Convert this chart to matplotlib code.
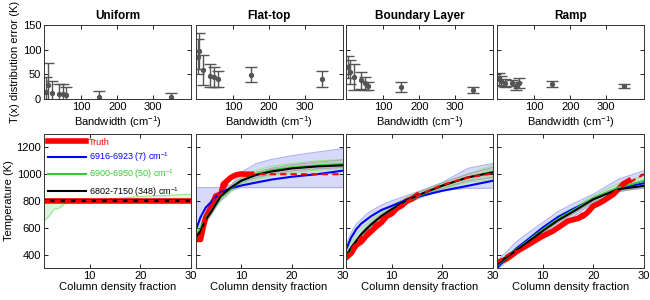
import matplotlib
matplotlib.use('Agg')
import matplotlib.pyplot as plt

plt.rcParams['font.family'] = ['Liberation Sans', 'DejaVu Sans']
plt.rcParams['mathtext.default'] = 'regular'

titles = ['Uniform', 'Flat-top', 'Boundary Layer', 'Ramp']

# top row: retrieval error vs bandwidth
bandwidth = [2, 7, 17, 37, 48, 58, 150, 348]
err_mean = [
    [15, 28, 13, 11, 11, 9, 5, 5],
    [86, 97, 59, 47, 44, 41, 49, 41],
    [65, 55, 45, 38, 32, 27, 25, 18],
    [40, 36, 33, 32, 27, 32, 30, 26],
]
err_std = [
    [30, 44, 24, 20, 20, 16, 11, 7],
    [36, 36, 30, 23, 20, 16, 15, 16],
    [22, 25, 26, 17, 13, 8, 10, 6],
    [12, 10, 8, 6, 8, 10, 6, 4],
]

# bottom row: temperature profiles
xs = [1, 2, 3, 4, 5, 6, 8, 10, 13, 16, 20, 25, 30]

blue = [
    [806, 806, 806, 806, 806, 806, 806, 806, 806, 806, 806, 806, 806],
    [576, 680, 750, 790, 830, 865, 895, 915, 938, 960, 981, 1000, 1026],
    [438, 526, 588, 631, 660, 688, 733, 763, 810, 840, 876, 913, 951],
    [301, 340, 380, 415, 451, 480, 540, 601, 680, 740, 813, 896, 933],
]
blue_lo = [
    [792, 792, 792, 792, 792, 792, 792, 792, 792, 792, 792, 792, 792],
    [530, 560, 640, 700, 760, 810, 880, 900, 900, 900, 900, 900, 900],
    [388, 450, 500, 540, 570, 600, 660, 720, 790, 830, 880, 895, 896],
    [290, 320, 355, 385, 413, 440, 490, 538, 615, 680, 788, 876, 896],
]
blue_hi = [
    [818, 818, 818, 818, 818, 818, 818, 818, 818, 818, 818, 818, 818],
    [900, 900, 900, 900, 900, 900, 915, 1013, 1080, 1110, 1138, 1165, 1190],
    [476, 560, 626, 660, 700, 726, 770, 801, 840, 880, 938, 1043, 1081],
    [351, 390, 425, 465, 501, 530, 585, 638, 720, 780, 851, 963, 1026],
]
green = [
    [800, 800, 800, 800, 800, 800, 800, 800, 800, 800, 800, 800, 800],
    [545, 590, 670, 720, 780, 830, 895, 950, 1000, 1030, 1050, 1065, 1076],
    [380, 445, 500, 548, 588, 625, 685, 735, 800, 850, 912, 975, 1020],
    [320, 350, 382, 412, 442, 470, 528, 585, 665, 730, 818, 900, 951],
]
green_lo = [
    [650, 688, 738, 746, 776, 796, 800, 800, 800, 800, 800, 800, 800],
    [520, 560, 640, 690, 750, 800, 870, 920, 960, 990, 1010, 1030, 1040],
    [370, 430, 480, 525, 560, 595, 650, 700, 780, 830, 885, 940, 960],
    [305, 335, 368, 398, 428, 455, 512, 568, 645, 712, 800, 880, 920],
]
green_hi = [
    [800, 800, 800, 800, 801, 802, 804, 808, 813, 822, 833, 842, 851],
    [580, 620, 700, 750, 810, 860, 920, 980, 1030, 1060, 1080, 1100, 1110],
    [420, 490, 550, 590, 625, 660, 715, 765, 830, 875, 935, 1000, 1066],
    [338, 368, 398, 428, 460, 488, 545, 602, 685, 750, 840, 930, 988],
]
black = [
    [800, 800, 800, 800, 800, 800, 800, 800, 800, 800, 800, 800, 800],
    [526, 576, 663, 713, 775, 838, 901, 951, 995, 1020, 1043, 1058, 1066],
    [388, 451, 501, 551, 590, 626, 688, 738, 805, 855, 915, 976, 1013],
    [326, 355, 385, 410, 438, 465, 520, 576, 655, 720, 813, 888, 913],
]
gray_lo = [
    [796, 796, 796, 796, 796, 796, 796, 796, 796, 796, 796, 796, 796],
    [510, 560, 645, 695, 760, 820, 885, 935, 975, 1000, 1025, 1040, 1050],
    [375, 440, 490, 540, 578, 612, 672, 720, 785, 835, 895, 950, 976],
    [315, 345, 375, 400, 428, 455, 508, 562, 640, 705, 795, 870, 900],
]
gray_hi = [
    [804, 804, 804, 804, 804, 804, 804, 804, 804, 804, 804, 804, 804],
    [545, 595, 680, 730, 795, 855, 920, 970, 1015, 1045, 1070, 1090, 1106],
    [400, 462, 512, 562, 602, 640, 702, 755, 822, 875, 935, 1000, 1051],
    [338, 367, 397, 422, 450, 477, 532, 590, 670, 737, 830, 905, 930],
]
truth_dash = [
    [800, 800, 800, 800, 800, 800, 800, 800, 800, 800, 800, 800, 800],
    [513, 520, 676, 751, 838, 851, 970, 1003, 1000, 1000, 1000, 1000, 1000],
    [376, 440, 490, 530, 560, 600, 670, 720, 800, 855, 920, 975, 1006],
    [338, 365, 395, 420, 426, 448, 492, 538, 600, 660, 763, 890, 1001],
]
truth_x = [
    [1, 30],
    [1, 2, 2.5, 3, 4, 5, 6, 6.5, 8, 9, 10, 11, 12],
    [1, 2, 3, 4, 5, 6, 7, 8, 9, 10, 11, 12, 13, 14, 15],
    [1, 3, 5, 7, 10, 12, 15, 17, 18, 19, 20, 21, 22, 24, 26, 27],
]
truth_y = [
    [800, 800],
    [513, 513, 600, 676, 751, 838, 851, 926, 976, 995, 1002, 1000, 1000],
    [376, 410, 470, 495, 540, 575, 610, 640, 685, 705, 745, 765, 800, 815, 842],
    [338, 370, 426, 470, 538, 575, 651, 670, 688, 720, 763, 780, 801, 851, 930, 951],
]

labels = ['Truth', '6916-6923 (7) cm$^{-1}$', '6900-6950 (50) cm$^{-1}$',
          '6802-7150 (348) cm$^{-1}$']

W, H = 650, 300
fig = plt.figure(figsize=(6.5, 3), dpi=100)
lefts = [44, 195.5, 346, 497]
wid = 147

axcol = '#333333'

def style(ax):
    ax.tick_params(direction='in', top=True, right=True, length=3, width=0.6,
                   labelsize=8, colors='black', pad=2)
    for s in ax.spines.values():
        s.set_color(axcol)
        s.set_linewidth(0.7)

for i in range(4):
    # top panel
    ax = fig.add_axes([lefts[i] / W, 1 - 99 / H, wid / W, 74 / H])
    ax.errorbar(bandwidth, err_mean[i], yerr=err_std[i], fmt='o', color='#555555',
                ms=2.8, capsize=4, elinewidth=1, capthick=1)
    ax.set_xlim(-4, 405)
    ax.set_ylim(0, 150)
    ax.set_xticks([100, 200, 300])
    ax.set_yticks([0, 50, 100, 150])
    ax.set_title(titles[i], fontsize=8.5, fontweight='bold', pad=4)
    ax.set_xlabel('Bandwidth (cm$^{-1}$)', fontsize=8, labelpad=2)
    if i == 0:
        ax.set_ylabel('T(x) distribution error (K)', fontsize=8, labelpad=2)
    else:
        ax.set_yticklabels([])
    style(ax)

    # bottom panel
    ax = fig.add_axes([lefts[i] / W, 1 - 268 / H, wid / W, 134 / H])
    ax.fill_between(xs, blue_lo[i], blue_hi[i], color='#d6d9fa', lw=0)
    ax.plot(xs, blue_lo[i], color='#aab0f4', lw=0.8)
    ax.plot(xs, blue_hi[i], color='#aab0f4', lw=0.8)
    ax.fill_between(xs, green_lo[i], green_hi[i], color='#c4f0c4', alpha=0.6, lw=0)
    ax.plot(xs, green_lo[i], color='#98e498', lw=0.8)
    ax.plot(xs, green_hi[i], color='#98e498', lw=0.8)
    ax.fill_between(xs, gray_lo[i], gray_hi[i], color='#bdbdbd', alpha=0.6, lw=0)
    ax.plot(xs, gray_lo[i], color='#a8a8a8', lw=0.8)
    ax.plot(xs, gray_hi[i], color='#a8a8a8', lw=0.8)
    ax.plot(truth_x[i], truth_y[i], color='#ff0000', lw=4, label=labels[0])
    ax.plot(xs, blue[i], color='#0000ff', lw=1.5, label=labels[1])
    ax.plot(xs, green[i], color='#33cc33', lw=1.5, label=labels[2])
    ax.plot(xs, black[i], color='black', lw=1.5, label=labels[3])
    ax.plot(xs, truth_dash[i], color='#ff0000', lw=1.5, ls=(0, (3, 2)))
    ax.set_xlim(1, 30)
    ax.set_ylim(300, 1300)
    ax.set_xticks([10, 20, 30])
    ax.set_yticks([400, 600, 800, 1000, 1200])
    ax.set_xlabel('Column density fraction', fontsize=8, labelpad=1)
    if i == 0:
        ax.set_ylabel('Temperature (K)', fontsize=8, labelpad=2)
        leg = ax.legend(loc='upper left', fontsize=6.5, frameon=False,
                        handlelength=4.2, borderaxespad=0.1, labelspacing=0.4,
                        handletextpad=0.4, borderpad=0.3)
        for t, c in zip(leg.get_texts(), ['#ff0000', '#0000ff', '#33cc33', 'black']):
            t.set_color(c)
    else:
        ax.set_yticklabels([])
    style(ax)

fig.savefig('out.png', dpi=100)
